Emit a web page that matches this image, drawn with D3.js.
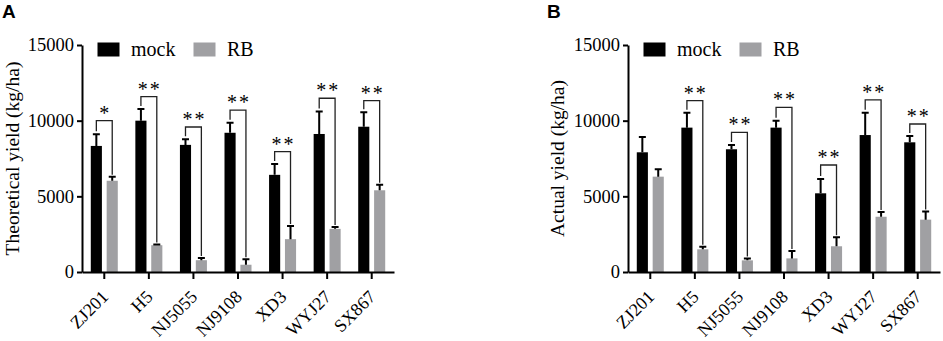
<!DOCTYPE html>
<html>
<head>
<meta charset="utf-8">
<script src="https://cdn.jsdelivr.net/npm/d3@7"></script>
<style>
  body { margin: 0; background: #fff; }
  svg { display: block; }
  .tick text { font-family: 'Liberation Serif', 'Times New Roman', serif; }
</style>
</head>
<body>
<svg id="fig"></svg>
<script>
// categories and series
const categories = ['ZJ201', 'H5', 'NJ5055', 'NJ9108', 'XD3', 'WYJ27', 'SX867'];
const series = ['mock', 'RB'];
const yTicks = [0, 5000, 10000, 15000];

// A: theoretical yield (kg/ha)
const theoMock    = [8330, 10000, 8400, 9200, 6420, 9120, 9600];
const theoMockErr = [770, 770, 370, 670, 720, 1480, 950];
const theoRB      = [6030, 1770, 780, 480, 2170, 2850, 5400];
const theoRBErr   = [270, 50, 150, 360, 870, 120, 370];
const theoSig     = ['*', '**', '**', '**', '**', '**', '**'];
const theoBracket = [10000, 11590, 9580, 10700, 7950, 11480, 11320];

// B: actual yield (kg/ha)
const actMock    = [7910, 9540, 8110, 9540, 5200, 9050, 8570];
const actMockErr = [1010, 990, 280, 460, 950, 1480, 420];
const actRB      = [6300, 1500, 770, 900, 1700, 3650, 3460];
const actRBErr   = [490, 170, 130, 490, 590, 320, 530];
const actSig     = ['', '**', '**', '**', '**', '**', '**'];
const actBracket = [null, 11320, 9230, 10880, 7070, 11370, 9780];

const colors = { mock: '#000000', RB: '#a0a0a3' };
const serif = "'Liberation Serif', 'Times New Roman', serif";

class GroupedBarChart {
    constructor (config, data) {
        this.config = {
            parent: config.parent,
            left: config.left,
            right: config.right,
            top: config.top || 45,
            bottom: config.bottom || 272,
            ylabel: config.ylabel || '',
            ylabelX: config.ylabelX,
            panel: config.panel,
            panelX: config.panelX
        };
        this.data = data;
        this.init();
    }

    init() {
        let self = this;
        const c = self.config;
        self.chart = c.parent.append('g');

        self.xscale = d3.scaleBand()
            .domain(categories)
            .range([c.left, c.right])
            .padding(0);

        self.subscale = d3.scaleBand()
            .domain(series)
            .range([-13.5, 13.5])
            .paddingInner(0.3);

        self.yscale = d3.scaleLinear()
            .domain([0, 15000])
            .range([c.bottom, c.top]);

        self.xaxis = d3.axisBottom(self.xscale)
            .tickSize(7)
            .tickSizeOuter(0);

        self.yaxis = d3.axisLeft(self.yscale)
            .tickValues(yTicks)
            .tickFormat(d3.format('d'))
            .tickSize(5)
            .tickPadding(3)
            .tickSizeOuter(0);

        // panel letter
        c.parent.append('text')
            .attr('x', c.panelX)
            .attr('y', 18)
            .style('font-family', "'Liberation Sans', Arial, sans-serif")
            .style('font-weight', 'bold')
            .style('font-size', '19px')
            .text(c.panel);

        // y label
        c.parent.append('text')
            .attr('transform', `translate(${c.ylabelX}, ${(c.top + c.bottom) / 2}) rotate(-90)`)
            .attr('text-anchor', 'middle')
            .style('font-family', serif)
            .style('font-size', '19.5px')
            .text(c.ylabel);
    }

    render() {
        let self = this;
        const c = self.config;
        const rows = categories.map((k, i) => ({
            key: k,
            vals: [
                { s: 'mock', v: self.data.mock[i], e: self.data.mockErr[i] },
                { s: 'RB', v: self.data.rb[i], e: self.data.rbErr[i] }
            ],
            sig: self.data.sig[i],
            bracket: self.data.bracket[i]
        }));
        const cx = (k, s) => self.xscale(k) + self.xscale.bandwidth() / 2 + self.subscale(s) + self.subscale.bandwidth() / 2;

        const groups = self.chart.selectAll('.grp')
            .data(rows)
            .join('g')
            .attr('class', 'grp');

        // bars
        groups.selectAll('rect')
            .data(d => d.vals.map(v => Object.assign({ key: d.key }, v)))
            .join('rect')
            .attr('x', d => cx(d.key, d.s) - self.subscale.bandwidth() / 2)
            .attr('y', d => self.yscale(d.v))
            .attr('width', self.subscale.bandwidth())
            .attr('height', d => self.yscale(0) - self.yscale(d.v))
            .attr('fill', d => colors[d.s]);

        // error bars (upper only)
        groups.selectAll('.err')
            .data(d => d.vals.map(v => Object.assign({ key: d.key }, v)))
            .join('path')
            .attr('class', 'err')
            .attr('fill', 'none')
            .attr('stroke', '#000')
            .attr('stroke-width', 2)
            .attr('d', d => {
                const x = cx(d.key, d.s), y0 = self.yscale(d.v), y1 = self.yscale(d.v + d.e);
                return `M${x},${y0}V${y1}M${x - 3.5},${y1}H${x + 3.5}`;
            });

        // significance brackets
        const sigRows = rows.filter(d => d.bracket != null);
        self.chart.selectAll('.bracket')
            .data(sigRows)
            .join('path')
            .attr('class', 'bracket')
            .attr('fill', 'none')
            .attr('stroke', '#222')
            .attr('stroke-width', 1.3)
            .attr('d', d => {
                const x0 = cx(d.key, 'mock'), x1 = cx(d.key, 'RB');
                const yt = self.yscale(d.bracket);
                const yl = self.yscale(d.vals[0].v + d.vals[0].e) - 3;
                const yr = self.yscale(d.vals[1].v + d.vals[1].e) - 2;
                return `M${x0},${yl}V${yt}H${x1}V${yr}`;
            });

        self.chart.selectAll('.star')
            .data(sigRows)
            .join('text')
            .attr('class', 'star')
            .attr('x', d => (cx(d.key, 'mock') + cx(d.key, 'RB')) / 2 + 1)
            .attr('y', d => self.yscale(d.bracket) - 1)
            .attr('text-anchor', 'middle')
            .style('font-family', serif)
            .style('font-size', '20px')
            .style('letter-spacing', '2px')
            .text(d => d.sig);

        // axes
        const xg = self.chart.append('g')
            .attr('transform', `translate(0, ${c.bottom})`)
            .call(self.xaxis);
        xg.selectAll('text')
            .attr('x', 0).attr('y', 0).attr('dy', 0)
            .attr('text-anchor', 'end')
            .attr('transform', 'translate(5, 26) rotate(-45)')
            .style('font-size', '18px')
            .attr('fill', '#000');

        const yg = self.chart.append('g')
            .attr('transform', `translate(${c.left}, 0)`)
            .call(self.yaxis);
        yg.selectAll('text')
            .style('font-size', '18.5px')
            .attr('fill', '#000');

        self.chart.selectAll('.domain, .tick line')
            .attr('stroke', '#000')
            .attr('stroke-width', 2);

        // legend
        const lg = self.chart.append('g')
            .attr('transform', `translate(${c.left + 15.5}, 42.5)`);
        series.forEach((s, i) => {
            lg.append('rect')
                .attr('x', i * 96)
                .attr('y', 0)
                .attr('width', 22)
                .attr('height', 14)
                .attr('fill', colors[s]);
            lg.append('text')
                .attr('x', i * 96 + 33.5)
                .attr('y', 13.5)
                .style('font-family', serif)
                .style('font-size', '20px')
                .text(s);
        });
    }
}

const svg = d3.select('#fig')
    .attr('width', 943)
    .attr('height', 341);

const chartA = new GroupedBarChart({
    parent: svg, left: 82, right: 394, ylabel: 'Theoretical yield (kg/ha)',
    ylabelX: 18.5, panel: 'A', panelX: 2
}, { mock: theoMock, mockErr: theoMockErr, rb: theoRB, rbErr: theoRBErr, sig: theoSig, bracket: theoBracket });
chartA.render();

const chartB = new GroupedBarChart({
    parent: svg, left: 628, right: 940, ylabel: 'Actual yield (kg/ha)',
    ylabelX: 564, panel: 'B', panelX: 547
}, { mock: actMock, mockErr: actMockErr, rb: actRB, rbErr: actRBErr, sig: actSig, bracket: actBracket });
chartB.render();
</script>
</body>
</html>
